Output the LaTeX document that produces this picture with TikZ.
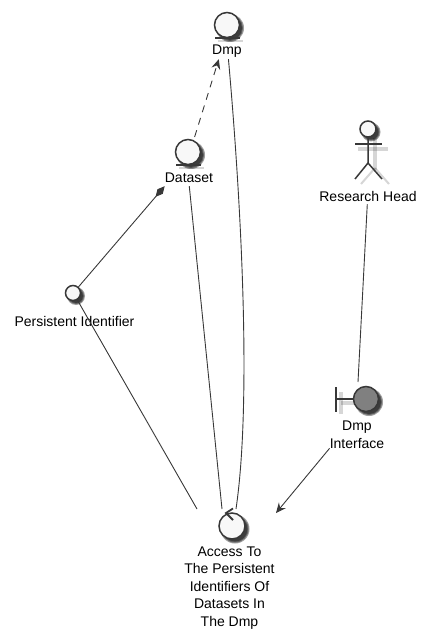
\documentclass[tikz,border=0pt]{standalone}
\usepackage{fontspec}
\setmainfont{Liberation Sans}
\usetikzlibrary{arrows.meta}
\definecolor{umlline}{HTML}{383838}
\definecolor{umlfill}{HTML}{F8F8F8}

%% soft shadow of a circle: x, y, radius
\newcommand{\softdisc}[3]{
  \foreach \extra in {1.5,0.5,-0.5}
    \fill[black, opacity=.38] (#1+3,#2+3) circle ({#3+\extra});
}

\begin{document}
\begin{tikzpicture}[
  x=1pt, y=-1pt,
  bigcircle/.style={circle, draw=umlline, fill=umlfill, line width=1.5pt, inner sep=0pt, minimum size=25pt},
  smallcircle/.style={bigcircle, minimum size=15pt},
  txt/.style={font=\fontsize{14}{17.5}\selectfont, inner sep=0pt, minimum height=16pt, align=center},
  bar/.style={draw=umlline, line width=1.5pt},
  barshadow/.style={draw=black, opacity=.16, line width=4pt},
  edge/.style={draw=umlline, line width=.9pt},
  open/.style={-{Stealth[length=10pt, width=9pt, inset=3.5pt]}}
]
  \useasboundingbox (0,0) rectangle (428,639);

  %% Entities
  \draw[barshadow, line width=2pt] (218,41) -- (243,41);
  \softdisc{227}{25}{12.5}
  \node[bigcircle] (dmp) at (227,25) {};
  \draw[bar] (215,38) -- (240,38);
  \node[txt] (dmplabel) at (227,51) {Dmp};

  \draw[barshadow, line width=2pt] (179,168) -- (204,168);
  \softdisc{188}{152}{12.5}
  \node[bigcircle] (dataset) at (188,152) {};
  \draw[bar] (176,165) -- (201,165);
  \node[txt] (datasetlabel) at (189,178) {Dataset};

  %% Interface
  \softdisc{73}{293}{7.5}
  \node[smallcircle] (persistent) at (73,293) {};
  \node[txt] (persistentlabel) at (74.5,321) {Persistent Identifier};

  %% Actor
  \draw[barshadow] (358,149) -- (388,149);
  \draw[barshadow] (375,138) -- (375,170);
  \draw[barshadow, line width=2pt] (375,168) -- (361,184);
  \draw[barshadow, line width=2pt] (375,168) -- (389,184);
  \softdisc{368}{129}{8}
  \node[smallcircle, minimum size=16pt] (researchhead) at (368,129) {};
  \draw[bar] (researchhead.south) -- (368,163) -- (355,179);
  \draw[bar] (368,163) -- (382,179);
  \draw[bar] (355,144) -- (382,144);
  \node[txt] (researchlabel) at (368,196) {Research Head};

  %% Boundary
  \draw[barshadow] (341,392) -- (341,414);
  \draw[barshadow] (341,403) -- (355,403);
  \softdisc{366}{399}{12.5}
  \node[bigcircle, fill=gray] (boundary) at (366,399) {};
  \draw[bar] (336,387) -- (336,412);
  \draw[bar] (336,399) -- (boundary.west);
  \node[txt] (boundarylabel) at (357,434.5) {Dmp\\Interface};

  %% Control
  \softdisc{232}{526}{13}
  \node[bigcircle, minimum size=26pt] (access) at (232,526) {};
  \draw[bar, line width=1.8pt] (233,508.5) -- (226,513) -- (233,520);
  \node[txt] (accesslabel) at (229.5,588) {Access To\\The Persistent\\Identifiers Of\\Datasets In\\The Dmp};

  %% Edges
  \draw[edge, dashed, dash pattern=on 7pt off 6pt, open] (dataset.65) ++(1,-3) -- (dmplabel.-135);
  \draw[edge, -{Diamond[length=14pt, width=7pt]}] (persistent.48) -- (datasetlabel.south west);
  \draw[edge] (persistent.-58) -- ([xshift=-35pt, yshift=17pt]access.center);
  \draw[edge] (datasetlabel.-88) -- ([xshift=-10pt, yshift=17pt]access.center);
  \draw[edge] (dmplabel.-80) .. controls (241,200) and (252,400) .. ([xshift=4pt, yshift=17pt]access.center);
  \draw[edge] (researchlabel.-95) -- ([xshift=-8pt, yshift=17pt]boundary.center);
  \draw[edge, open] (boundarylabel.south west) -- ([xshift=44pt, yshift=13pt]access.center);
\end{tikzpicture}
\end{document}
